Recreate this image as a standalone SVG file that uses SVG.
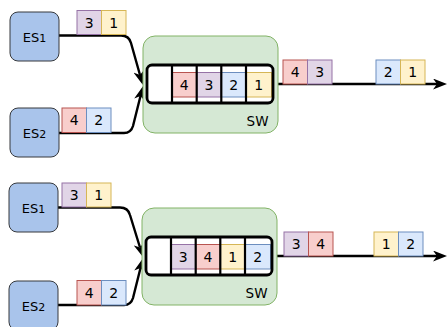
<svg xmlns="http://www.w3.org/2000/svg" width="448" height="327" viewBox="0 0 448 327">
<style>
.es{fill:#a9c4eb;stroke:#36393d;stroke-width:1}
.sw{fill:#d5e8d4;stroke:#82b366;stroke-width:1}
.q{fill:#ffffff;stroke:none}
.qo{fill:none;stroke:#000;stroke-width:2.8}
.dv{stroke:#000;stroke-width:2.2}
.red{fill:#f8cecc;stroke:#b85450;stroke-width:1}
.pur{fill:#e1d5e7;stroke:#9673a6;stroke-width:1}
.blu{fill:#dae8fc;stroke:#6c8ebf;stroke-width:1}
.yel{fill:#fff2cc;stroke:#d6b656;stroke-width:1}
.t{font-family:"DejaVu Sans",sans-serif;font-size:14px;text-anchor:middle;fill:#000}
.e{font-family:"DejaVu Sans",sans-serif;font-size:13px;text-anchor:middle;fill:#000}
.sub{font-size:11px}
.lbl{font-family:"DejaVu Sans",sans-serif;font-size:13.5px;text-anchor:end;fill:#000}
.c{fill:none;stroke:#000;stroke-width:2.4;stroke-linejoin:round}
</style>
<defs>
<marker id="arr" viewBox="0 0 14 11" refX="4" refY="5.5" markerWidth="14" markerHeight="11" markerUnits="userSpaceOnUse" orient="auto">
<path d="M0,0 L14,5.5 L0,11 L4,5.5 Z" fill="#000"/>
</marker>
</defs>

<g id="connectors">
<path class="c" d="M59,35.5 H121 Q129,35.5 131,43 L140,75" marker-end="url(#arr)"/>
<path class="c" d="M59,133 H124 Q131,133 133,126 L140.5,96" marker-end="url(#arr)"/>
<path class="c" d="M273,84 H437" marker-end="url(#arr)"/>
<path class="c" d="M58,207.5 H120 Q128,207.5 130,215 L140,247.5" marker-end="url(#arr)"/>
<path class="c" d="M58,305 H124 Q131,305 133,298 L140.5,268" marker-end="url(#arr)"/>
<path class="c" d="M272,256 H437" marker-end="url(#arr)"/>
</g>

<g id="sw-top">
<rect class="sw" x="143" y="36" width="135" height="97" rx="12"/>
<text class="lbl" x="268.5" y="125.5">SW</text>
<rect class="q" x="147" y="65" width="126" height="38" rx="5"/>
<rect class="red" x="172" y="72.5" width="24.7" height="24.5"/><text class="t" x="184.3" y="90">4</text>
<rect class="pur" x="196.7" y="72.5" width="24.6" height="24.5"/><text class="t" x="209" y="90">3</text>
<rect class="blu" x="221.3" y="72.5" width="24.7" height="24.5"/><text class="t" x="233.6" y="90">2</text>
<rect class="yel" x="246" y="72.5" width="25.5" height="24.5"/><text class="t" x="258.7" y="90">1</text>
<line class="dv" x1="172" y1="65" x2="172" y2="103"/>
<line class="dv" x1="196.7" y1="65" x2="196.7" y2="103"/>
<line class="dv" x1="221.3" y1="65" x2="221.3" y2="103"/>
<line class="dv" x1="246" y1="65" x2="246" y2="103"/>
<rect class="qo" x="147" y="65" width="126" height="38" rx="5"/>
</g>

<g id="sw-bottom" transform="translate(-1,172)">
<rect class="sw" x="143" y="36" width="135" height="97" rx="12"/>
<text class="lbl" x="268.5" y="125.5">SW</text>
<rect class="q" x="147" y="65" width="126" height="38" rx="5"/>
<rect class="pur" x="172" y="72.5" width="24.7" height="24.5"/><text class="t" x="184.3" y="90">3</text>
<rect class="red" x="196.7" y="72.5" width="24.6" height="24.5"/><text class="t" x="209" y="90">4</text>
<rect class="yel" x="221.3" y="72.5" width="24.7" height="24.5"/><text class="t" x="233.6" y="90">1</text>
<rect class="blu" x="246" y="72.5" width="25.5" height="24.5"/><text class="t" x="258.7" y="90">2</text>
<line class="dv" x1="172" y1="65" x2="172" y2="103"/>
<line class="dv" x1="196.7" y1="65" x2="196.7" y2="103"/>
<line class="dv" x1="221.3" y1="65" x2="221.3" y2="103"/>
<line class="dv" x1="246" y1="65" x2="246" y2="103"/>
<rect class="qo" x="147" y="65" width="126" height="38" rx="5"/>
</g>

<g id="es1-top">
<rect class="es" x="10" y="12" width="49" height="49" rx="8"/>
<text class="e" x="34.5" y="41.5">ES<tspan class="sub" dy="0.5">1</tspan></text>
</g>
<g id="es2-top">
<rect class="es" x="10" y="108" width="49" height="49" rx="8"/>
<text class="e" x="34.5" y="137.5">ES<tspan class="sub" dy="0.5">2</tspan></text>
</g>
<g id="es1-bottom">
<rect class="es" x="9" y="183" width="49" height="49" rx="8"/>
<text class="e" x="33.5" y="212.5">ES<tspan class="sub" dy="0.5">1</tspan></text>
</g>
<g id="es2-bottom">
<rect class="es" x="9" y="281" width="49" height="49" rx="8"/>
<text class="e" x="33.5" y="310.5">ES<tspan class="sub" dy="0.5">2</tspan></text>
</g>

<g id="pk-top-es1">
<rect class="pur" x="77" y="10.5" width="24.5" height="24"/><text class="t" x="89.3" y="27.6">3</text>
<rect class="yel" x="101.5" y="10.5" width="24.5" height="24"/><text class="t" x="113.8" y="27.6">1</text>
</g>
<g id="pk-top-es2">
<rect class="red" x="62" y="108" width="24.5" height="24.5"/><text class="t" x="74.3" y="125.4">4</text>
<rect class="blu" x="86.5" y="108" width="24.5" height="24.5"/><text class="t" x="98.8" y="125.4">2</text>
</g>
<g id="pk-top-out">
<rect class="red" x="283" y="60" width="24.5" height="24"/><text class="t" x="295.3" y="77.1">4</text>
<rect class="pur" x="307.5" y="60" width="24.5" height="24"/><text class="t" x="319.8" y="77.1">3</text>
<rect class="blu" x="376" y="60" width="24.5" height="24"/><text class="t" x="388.3" y="77.1">2</text>
<rect class="yel" x="400.5" y="60" width="24.5" height="24"/><text class="t" x="412.8" y="77.1">1</text>
</g>
<g id="pk-bot-es1">
<rect class="pur" x="62" y="183" width="24.5" height="24"/><text class="t" x="74.3" y="200.1">3</text>
<rect class="yel" x="86.5" y="183" width="24.5" height="24"/><text class="t" x="98.8" y="200.1">1</text>
</g>
<g id="pk-bot-es2">
<rect class="red" x="77" y="280.5" width="24.5" height="24.5"/><text class="t" x="89.3" y="297.8">4</text>
<rect class="blu" x="101.5" y="280.5" width="24.5" height="24.5"/><text class="t" x="113.8" y="297.8">2</text>
</g>
<g id="pk-bot-out">
<rect class="pur" x="284" y="232" width="24.5" height="24"/><text class="t" x="296.3" y="249.1">3</text>
<rect class="red" x="308.5" y="232" width="24.5" height="24"/><text class="t" x="320.8" y="249.1">4</text>
<rect class="yel" x="374" y="232" width="24.5" height="24"/><text class="t" x="386.3" y="249.1">1</text>
<rect class="blu" x="398.5" y="232" width="24.5" height="24"/><text class="t" x="410.8" y="249.1">2</text>
</g>
</svg>
